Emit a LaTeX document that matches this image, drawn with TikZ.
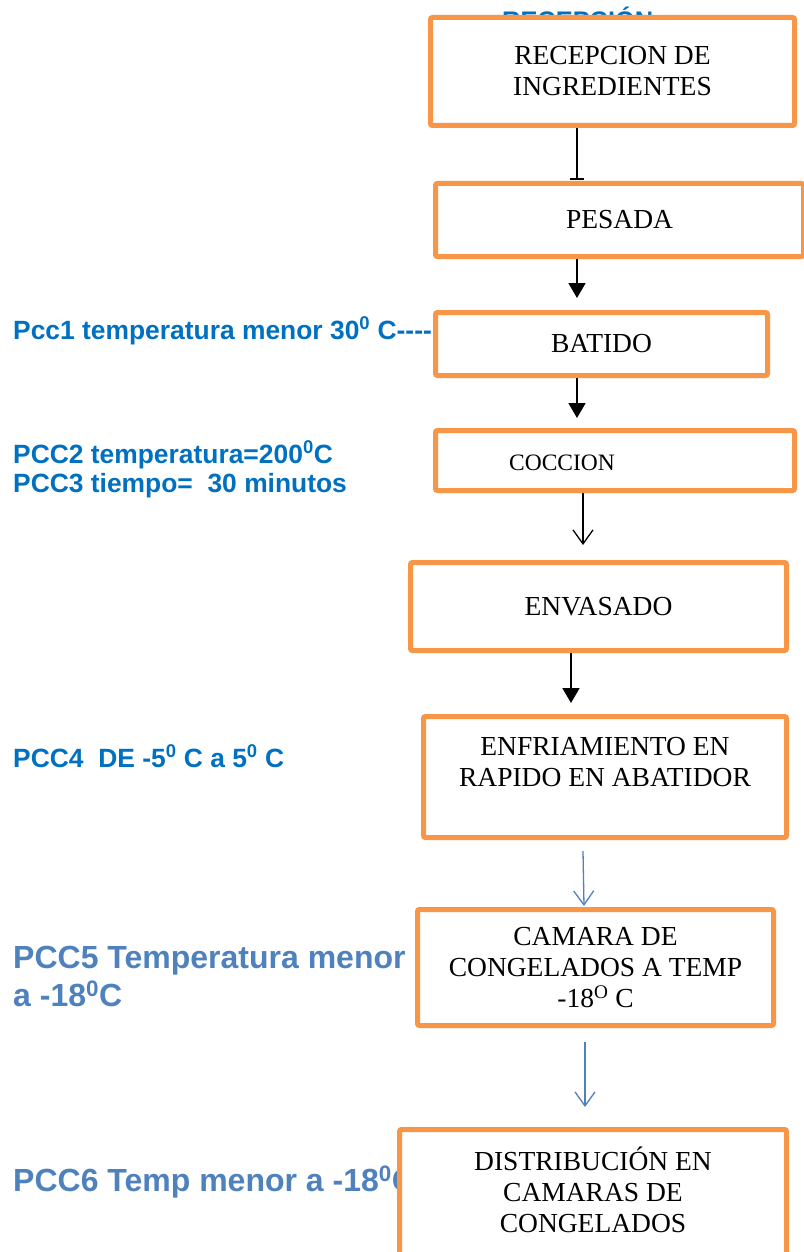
\documentclass[tikz,border=0pt]{standalone}
\usepackage{fontspec}
\setmainfont{Liberation Serif}
\newfontfamily\lsans{Liberation Sans}
\usetikzlibrary{arrows.meta,calc}
\definecolor{orng}{HTML}{F79646}
\definecolor{pccblue}{HTML}{0070C0}
\definecolor{lblue}{HTML}{4F81BD}
\begin{document}
\begin{tikzpicture}[x=1pt,y=1pt,
  box/.style={draw=orng, line width=5pt, fill=white, rounded corners=2pt, inner sep=0pt, align=center, font=\fontsize{27.5}{31}\selectfont},
  boxtxt/.style={inner sep=0pt, align=center, font=\fontsize{27.5}{31}\selectfont},
  pcc/.style={inner sep=0pt, anchor=base west, text=pccblue, font=\lsans\bfseries\fontsize{26.4}{29.5}\selectfont},
  pccbig/.style={inner sep=0pt, anchor=base west, text=lblue, font=\lsans\bfseries\fontsize{32}{38}\selectfont},
  blk/.style={draw=black, line width=1.8pt, -{Triangle[width=17pt,length=15pt]}},
  opn/.style={draw=black, line width=1.3pt, -{Straight Barb[width=20pt,length=14pt]}},
  blu/.style={draw=lblue, line width=1.3pt, -{Straight Barb[width=20pt,length=14pt]}}]
\useasboundingbox (0,0) rectangle (803,-1252);
\fill[white] (0,0) rectangle (803,-1252);

% hidden text behind top box
\node[inner sep=0pt, anchor=base west, text=pccblue, font=\lsans\bfseries\fontsize{25.4}{30}\selectfont] (hid) at (502,-30) {RECEPCIÓN};

% left labels
\node[pcc] (p1) at (13,-339) {Pcc1 temperatura menor 30\textsuperscript{0} C-{}-{}-{}-};
\node[pcc] (p2) at (13,-463) {PCC2 temperatura=200\textsuperscript{0}C};
\node[pcc] (p3) at (13,-492) {PCC3 tiempo=\ \ 30 minutos};
\node[pcc] (p4) at (13,-767) {PCC4\ \ DE -5\textsuperscript{0} C a 5\textsuperscript{0} C};
\node[pccbig] (p5a) at (13,-968) {PCC5 Temperatura menor};
\node[pccbig] (p5b) at (13,-1006) {a -18\textsuperscript{0}C};
\node[pccbig] (p6) at (13,-1191) {PCC6 Temp menor a -18\textsuperscript{0}C};

% boxes
\node[box, minimum width=364, minimum height=108] (b1) at (612.5,-71.5) {RECEPCION DE\\INGREDIENTES};
\node[box, minimum width=368, minimum height=73] (b2) at (619.5,-220) {PESADA};
\node[box, minimum width=332, minimum height=63] (b3) at (601.5,-344) {BATIDO};
\node[box, minimum width=359, minimum height=60,
      label={[boxtxt, font=\fontsize{23.5}{28}\selectfont, xshift=-53, yshift=-2.5]center:COCCION}] (b4) at (615,-460.5) {};
\node[box, minimum width=376, minimum height=88] (b5) at (598.5,-606.5) {ENVASADO};
\node[box, minimum width=363, minimum height=121] (b6) at (605,-777) {ENFRIAMIENTO EN\\RAPIDO EN ABATIDOR\\\mbox{}};
\node[box, minimum width=356, minimum height=116] (b7) at (595.5,-967.5) {CAMARA DE\\CONGELADOS A TEMP\\-18\textsuperscript{O} C};
\node[box, minimum width=387, minimum height=140,
      label={[boxtxt, anchor=north, yshift=-20]north:DISTRIBUCIÓN EN\\CAMARAS DE\\CONGELADOS}] (b8) at (593,-1199.5) {};

% connector x positions
\coordinate (xA) at (577,0);
\coordinate (xD) at (583,0);
\coordinate (xE) at (571,0);
\coordinate (xF) at (584,0);
\coordinate (xG) at (585,0);

% connectors
\draw[line width=1.8pt, -{Bar[width=14pt]}] (b1.south -| xA) -- ($(b2.north -| xA)+(0,1)$);
\draw[blk] (b2.south -| xA) -- ($(b3.north -| xA)+(0,12)$);
\draw[blk] (b3.south -| xA) -- ($(b4.north -| xA)+(0,10)$);
\draw[opn] (b4.south -| xD) -- ($(b5.north -| xD)+(0,15)$);
\draw[blk] (b5.south -| xE) -- ($(b6.north -| xE)+(0,11)$);
\draw[blu] ($(b6.south -| xD)+(0,-11)$) -- ($(b7.north -| xF)+(0,1)$);
\draw[blu] ($(b7.south -| xG)+(0,-14)$) -- ($(b8.north -| xG)+(0,20)$);
\end{tikzpicture}
\end{document}
